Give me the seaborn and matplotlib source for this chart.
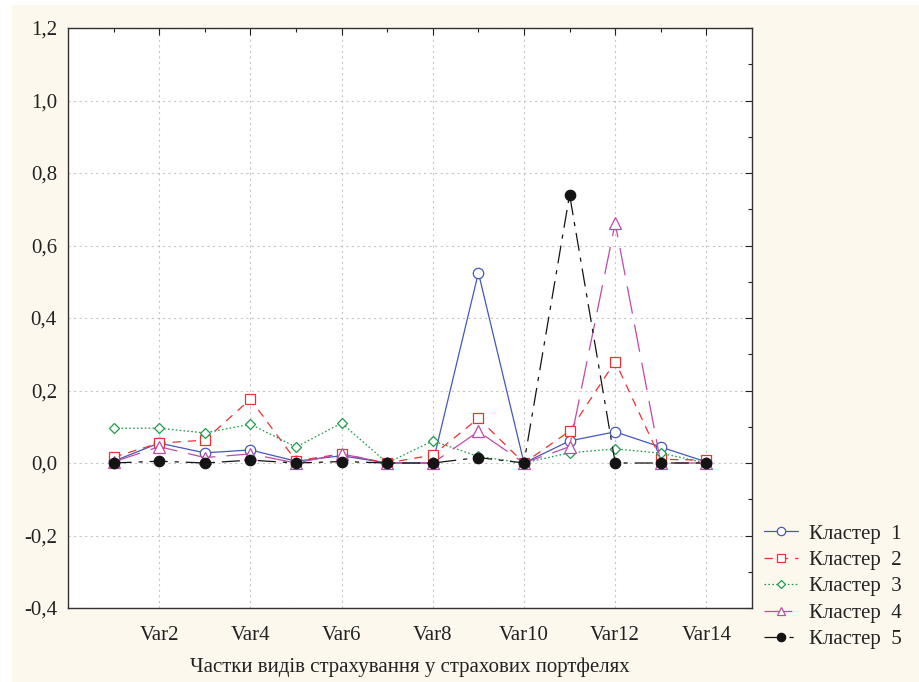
import matplotlib
matplotlib.use("Agg")
import matplotlib.pyplot as plt
import matplotlib.patches as mpatches
from matplotlib.lines import Line2D
import numpy as np
import pandas as pd
import seaborn as sns

# ---- data ----
variables = [f"Var{i}" for i in range(1, 15)]
cluster1 = [0.005, 0.055, 0.028, 0.036, 0.005, 0.020, 0.0, 0.0, 0.525, 0.0, 0.061, 0.086, 0.044, 0.003]
cluster2 = [0.016, 0.055, 0.063, 0.176, 0.006, 0.025, 0.0, 0.022, 0.123, 0.0, 0.088, 0.280, 0.010, 0.008]
cluster3 = [0.096, 0.096, 0.083, 0.107, 0.044, 0.110, 0.0, 0.061, 0.018, 0.0, 0.028, 0.039, 0.027, 0.0]
cluster4 = [0.003, 0.045, 0.015, 0.025, 0.0, 0.025, 0.0, 0.0, 0.087, 0.0, 0.045, 0.662, 0.0, 0.0]
cluster5 = [0.0, 0.005, 0.0, 0.008, 0.0, 0.004, 0.0, 0.0, 0.015, 0.0, 0.740, 0.0, 0.0, 0.0]
cluster_names = ["Кластер  1", "Кластер  2", "Кластер  3", "Кластер  4", "Кластер  5"]
x_tick_labels = ["Var2", "Var4", "Var6", "Var8", "Var10", "Var12", "Var14"]
y_ticks = [-0.4, -0.2, 0.0, 0.2, 0.4, 0.6, 0.8, 1.0, 1.2]
y_tick_labels = ["-0,4", "-0,2", "0,0", "0,2", "0,4", "0,6", "0,8", "1,0", "1,2"]
x_label = "Частки видів страхування у страхових портфелях"

series = [cluster1, cluster2, cluster3, cluster4, cluster5]
rows = []
for name, vals in zip(cluster_names, series):
    for i, v in enumerate(vals):
        rows.append({"pos": i + 1, "var": variables[i], "value": v, "cluster": name})
df = pd.DataFrame(rows)

# ---- style ----
sns.set_style("white")
plt.rcParams["font.family"] = ["Liberation Serif", "DejaVu Serif"]
plt.rcParams["lines.scale_dashes"] = False

colors = ["#4459b8", "#ee3030", "#1e9a48", "#c04aa8", "#141414"]
markers = ["o", "s", "D", "^", "o"]
msizes = [7.5, 7.5, 5.5, 8, 7.5]
linestyles = ["-", (0, (6, 5)), (0, (1.2, 1.6)), (0, (20, 8)), (0, (13, 5, 3, 5))]
facecols = ["white", "white", "white", "white", "#141414"]

fig = plt.figure(figsize=(9.2, 6.82), dpi=100, facecolor="white")
fig.patches.append(mpatches.Rectangle((12 / 920, 0), 1, 1 - 5 / 682,
                                      transform=fig.transFigure,
                                      facecolor="#fdf8ee", edgecolor="none", zorder=-10))
ax = fig.add_axes([68 / 920, 1 - 608 / 682, (752 - 68) / 920, (608 - 28) / 682])
ax.set_facecolor("white")

handles = []
for name, col, mk, ms, ls, fc in zip(cluster_names, colors, markers, msizes, linestyles, facecols):
    sub = df[df["cluster"] == name]
    sns.lineplot(data=sub, x="pos", y="value", ax=ax, color=col, linewidth=0.9,
                 marker=mk, markersize=ms, markerfacecolor=fc, markeredgecolor=col,
                 markeredgewidth=0.9, linestyle=ls, legend=False, zorder=3)
    handles.append(Line2D([], [], color=col, lw=0.9, linestyle=ls, marker=mk,
                          markersize=ms * 0.8, markerfacecolor=fc, markeredgecolor=col,
                          markeredgewidth=0.9, label=name))

ax.set_xlim(0, 15)
ax.set_ylim(-0.4, 1.2)
ax.set_xticks([2, 4, 6, 8, 10, 12, 14])
ax.set_xticklabels(x_tick_labels)
ax.set_xticks([1, 3, 5, 7, 9, 11, 13], minor=True)
ax.set_yticks(y_ticks)
ax.set_yticklabels(y_tick_labels)
ax.set_yticks(np.arange(-0.3, 1.2, 0.2), minor=True)
ax.tick_params(which="both", direction="in", top=True, right=True, colors="#222222",
               labelsize=15, labelcolor="#222222", pad=8)
ax.tick_params(axis="x", which="major", pad=13)
ax.tick_params(which="major", length=5, width=0.8)
ax.tick_params(which="minor", length=3, width=0.8)
ax.grid(True, which="major", color="#c4c4c4", linestyle=(0, (1.5, 2.5)), linewidth=0.8)
for sp in ax.spines.values():
    sp.set_color("#333333")
    sp.set_linewidth(1.0)
ax.set_xlabel(x_label, fontsize=15, color="#222222", labelpad=9)
ax.set_ylabel("")

leg = fig.legend(handles=handles, loc="upper left", bbox_to_anchor=(764 / 920, 1 - 524 / 682),
                 frameon=False, fontsize=15, handlelength=1.65, labelspacing=0.33,
                 handletextpad=0.5, borderaxespad=0, borderpad=0)
for t in leg.get_texts():
    t.set_color("#222222")

fig.savefig("out.png", dpi=100, facecolor=fig.get_facecolor())
